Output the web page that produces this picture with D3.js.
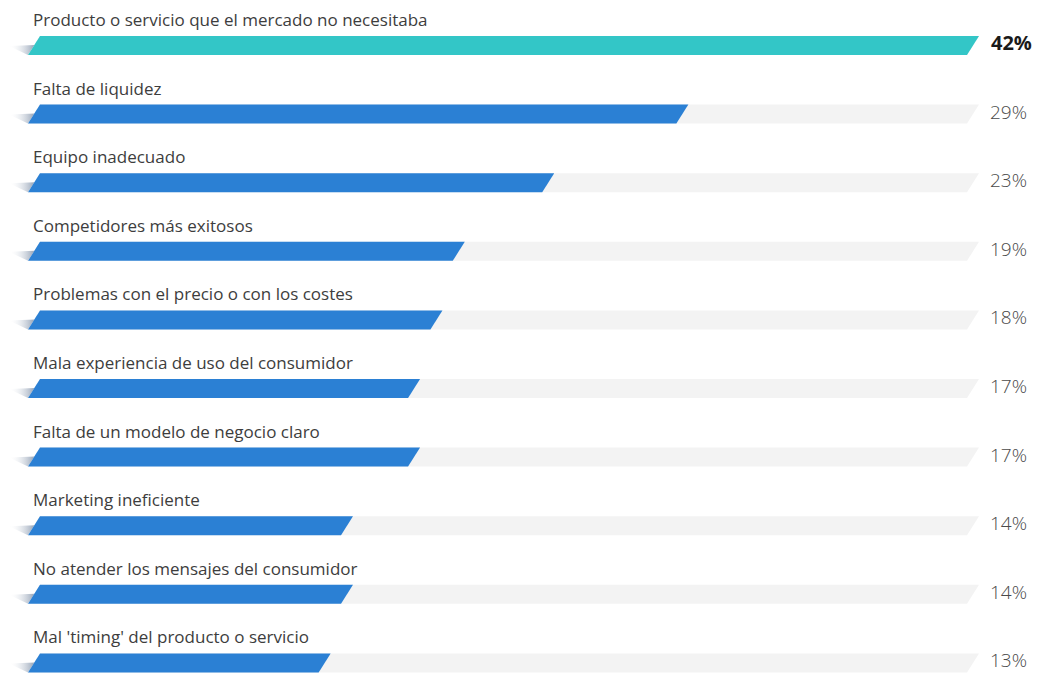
<!DOCTYPE html>
<html lang="en">
<head>
<meta charset="utf-8">
<script src="https://cdnjs.cloudflare.com/ajax/libs/d3/7.8.5/d3.min.js"></script>
<style>
    body { margin: 0; background: #fff; }
    svg { display: block; }
    .label { font-family: 'Open Sans', Lato, sans-serif; font-size: 17px; fill: #3d3d3d; }
    .pct { font-family: 'Open Sans', Lato, sans-serif; font-size: 19px; font-weight: 300; fill: #4a4a4a; }
    .pct.top { font-weight: bold; font-size: 20px; fill: #1a1a1a; }
</style>
</head>
<body>
<svg></svg>
<script>
    const categories = [
        'Producto o servicio que el mercado no necesitaba',
        'Falta de liquidez',
        'Equipo inadecuado',
        'Competidores más exitosos',
        'Problemas con el precio o con los costes',
        'Mala experiencia de uso del consumidor',
        'Falta de un modelo de negocio claro',
        'Marketing ineficiente',
        'No atender los mensajes del consumidor',
        "Mal 'timing' del producto o servicio"
    ]
    const values = [42, 29, 23, 19, 18, 17, 17, 14, 14, 13]
    const valueLabels = ['42%', '29%', '23%', '19%', '18%', '17%', '17%', '14%', '14%', '13%']

    const w = 1041, h = 673
    const barH = 19, skew = 12

    const svg = d3.select('svg').attr('width', w).attr('height', h)

    const x = d3.scaleLinear().domain([0, 42]).range([40, 979])
    const y = d3.scaleBand().domain(categories).range([0, 686]).paddingInner(0).paddingOuter(0)

    // gradient for the little shadow tail on the left
    const defs = svg.append('defs')
    const grad = defs.append('linearGradient').attr('id', 'tail')
        .attr('x1', '0%').attr('x2', '100%').attr('y1', '0%').attr('y2', '0%')
    grad.append('stop').attr('offset', '0%').attr('stop-color', '#fff').attr('stop-opacity', 0)
    grad.append('stop').attr('offset', '100%').attr('stop-color', '#7d8ea6').attr('stop-opacity', 0.85)

    const para = (x0, x1, top) => {
        const b = top + barH
        return `M${x0},${top}L${x1},${top}L${x1 - skew},${b}L${x0 - skew},${b}Z`
    }

    const rows = svg.selectAll('g.row')
        .data(categories)
        .enter()
        .append('g')
        .attr('class', 'row')
        .attr('transform', d => 'translate(0,' + y(d) + ')')

    rows.append('text')
        .attr('class', 'label')
        .attr('x', 33)
        .attr('y', 26)
        .text(d => d)

    // tail
    rows.append('path')
        .attr('d', `M9,46L${x(0) - skew},${36 + barH}L${x(0) - 5},45Z`)
        .attr('fill', 'url(#tail)')

    // track
    rows.append('path')
        .attr('d', para(x(0), x(42), 36))
        .attr('fill', '#f3f3f3')

    rows.append('path')
        .attr('d', (d, i) => para(x(0), x(values[i]), 36))
        .attr('fill', (d, i) => i === 0 ? '#33c6c7' : '#2b80d4')

    rows.append('text')
        .attr('class', (d, i) => i === 0 ? 'pct top' : 'pct')
        .attr('x', (d, i) => i === 0 ? 991 : 990)
        .attr('y', 50)
        .text((d, i) => valueLabels[i])
</script>
</body>
</html>
